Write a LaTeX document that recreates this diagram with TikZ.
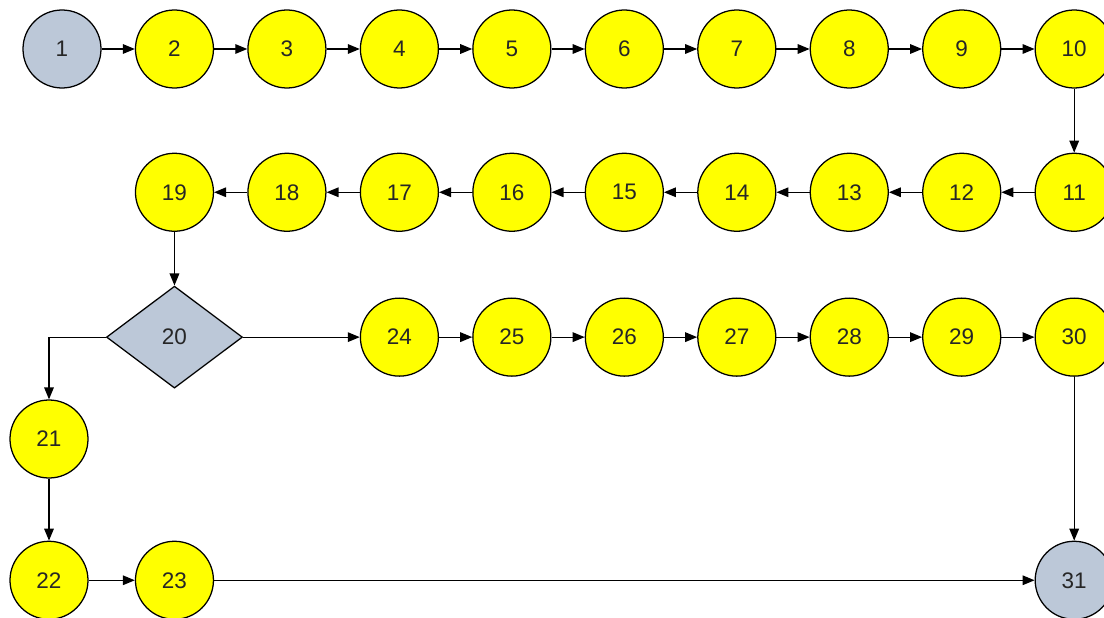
\documentclass[tikz,border=0pt]{standalone}
\usepackage{fontspec}
\setmainfont{Liberation Sans}
\usepackage{tikz}
\usetikzlibrary{shapes.geometric,arrows.meta,positioning}
\definecolor{nodeyellow}{RGB}{255,255,0}
\definecolor{nodegrey}{RGB}{188,200,216}

\begin{document}
\begin{tikzpicture}[
    font=\fontsize{16}{19}\selectfont,
    node distance=8.3mm,
    vertex/.style={circle, draw, fill=nodeyellow, text=black!85, minimum size=19.5mm, inner sep=0pt, line width=0.9pt},
    terminal/.style={vertex, fill=nodegrey},
    decision/.style={diamond, draw, fill=nodegrey, text=black!85, minimum width=34mm, minimum height=25.5mm, inner sep=0pt, line width=0.9pt},
    flow/.style={-{Stealth[length=3mm, width=2.4mm, inset=0pt]}, line width=0.9pt}
]
\useasboundingbox (0,0) rectangle (27.6,-15.45);

% first row
\node[terminal] (n1) at (1.55,-1.225) {1};
\node[vertex, right=of n1] (n2) {2};
\node[vertex, right=of n2] (n3) {3};
\node[vertex, right=of n3] (n4) {4};
\node[vertex, right=of n4] (n5) {5};
\node[vertex, right=of n5] (n6) {6};
\node[vertex, right=of n6] (n7) {7};
\node[vertex, right=of n7] (n8) {8};
\node[vertex, right=of n8] (n9) {9};
\node[vertex, right=of n9] (n10) {10};

% second row, right to left
\node[vertex, below=16mm of n10] (n11) {11};
\node[vertex, left=of n11] (n12) {12};
\node[vertex, left=of n12] (n13) {13};
\node[vertex, left=of n13] (n14) {14};
\node[vertex, left=of n14] (n15) {15};
\node[vertex, left=of n15] (n16) {16};
\node[vertex, left=of n16] (n17) {17};
\node[vertex, left=of n17] (n18) {18};
\node[vertex, left=of n18] (n19) {19};

% branch
\node[decision, below=13.4mm of n19] (n20) {20};
\node[vertex] (n24) at (n4 |- n20) {24};
\node[vertex, right=of n24] (n25) {25};
\node[vertex, right=of n25] (n26) {26};
\node[vertex, right=of n26] (n27) {27};
\node[vertex, right=of n27] (n28) {28};
\node[vertex, right=of n28] (n29) {29};
\node[vertex, right=of n29] (n30) {30};

\node[vertex] (n21) at (1.225,-10.975) {21};
\node[vertex, below=15.5mm of n21] (n22) {22};
\node[vertex] (n23) at (n19 |- n22) {23};
\node[terminal] (n31) at (n30 |- n22) {31};

\draw[flow] (n1) -- (n2);
\draw[flow] (n2) -- (n3);
\draw[flow] (n3) -- (n4);
\draw[flow] (n4) -- (n5);
\draw[flow] (n5) -- (n6);
\draw[flow] (n6) -- (n7);
\draw[flow] (n7) -- (n8);
\draw[flow] (n8) -- (n9);
\draw[flow] (n9) -- (n10);
\draw[flow] (n10) -- (n11);
\draw[flow] (n11) -- (n12);
\draw[flow] (n12) -- (n13);
\draw[flow] (n13) -- (n14);
\draw[flow] (n14) -- (n15);
\draw[flow] (n15) -- (n16);
\draw[flow] (n16) -- (n17);
\draw[flow] (n17) -- (n18);
\draw[flow] (n18) -- (n19);
\draw[flow] (n19) -- (n20);
\draw[flow] (n20.east) -- (n24);
\draw[flow] (n20.west) -| (n21.north);
\draw[flow] (n24) -- (n25);
\draw[flow] (n25) -- (n26);
\draw[flow] (n26) -- (n27);
\draw[flow] (n27) -- (n28);
\draw[flow] (n28) -- (n29);
\draw[flow] (n29) -- (n30);
\draw[flow] (n30) -- (n31);
\draw[flow] (n21) -- (n22);
\draw[flow] (n22) -- (n23);
\draw[flow] (n23) -- (n31);
\end{tikzpicture}
\end{document}
